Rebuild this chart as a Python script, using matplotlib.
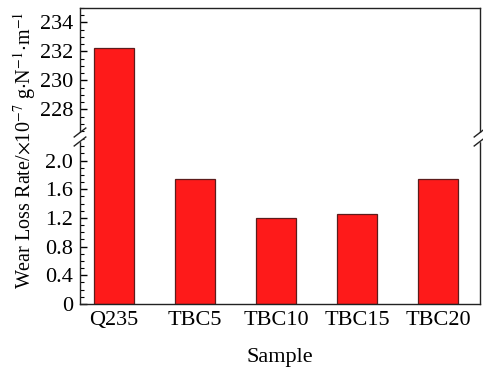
import matplotlib
matplotlib.use('Agg')
import matplotlib.pyplot as plt
import numpy as np
from matplotlib.ticker import MultipleLocator

plt.rcParams['font.family'] = ['Liberation Serif', 'DejaVu Serif']
plt.rcParams['mathtext.fontset'] = 'stix'

samples = ['Q235', 'TBC5', 'TBC10', 'TBC15', 'TBC20']
wear_rate = [232.25, 1.75, 1.20, 1.26, 1.75]

upper_ticks = [228, 230, 232, 234]
lower_ticks = [0, 0.4, 0.8, 1.2, 1.6, 2.0]
lower_labels = ['0', '0.4', '0.8', '1.2', '1.6', '2.0']

bar_face = '#fe1a1a'
bar_edge = '#5c1c1c'

fig = plt.figure(figsize=(4.83, 3.74), dpi=100)
x0, x1 = 80 / 483, 480 / 483
y_top = 1 - 8 / 374
y_mid = 1 - 137 / 374
y_bot = 1 - 304 / 374
ax_hi = fig.add_axes([x0, y_mid, x1 - x0, y_top - y_mid])
ax_lo = fig.add_axes([x0, y_bot, x1 - x0, y_mid - y_bot], sharex=ax_hi)

x = np.arange(len(samples))
for ax in (ax_hi, ax_lo):
    ax.bar(x, wear_rate, width=0.49, color=bar_face, edgecolor=bar_edge, linewidth=0.9)
    ax.set_xlim(-0.42, 4.52)
    for s in ax.spines.values():
        s.set_linewidth(1.0)
        s.set_color('#222222')
    ax.tick_params(axis='y', direction='in', length=5, width=1, labelsize=16, pad=5)
    ax.tick_params(axis='y', which='minor', direction='in', length=3, width=0.8)
    ax.tick_params(axis='x', length=0, labelsize=16, pad=5)

ax_hi.set_ylim(226.1, 235)
ax_hi.set_yticks(upper_ticks)
ax_hi.yaxis.set_minor_locator(MultipleLocator(0.5))
ax_hi.spines['bottom'].set_visible(False)
ax_hi.tick_params(axis='x', labelbottom=False)

ax_lo.set_ylim(0, 2.33)
ax_lo.set_yticks(lower_ticks)
ax_lo.set_yticklabels(lower_labels)
ax_lo.yaxis.set_minor_locator(MultipleLocator(0.1))
ax_lo.spines['top'].set_visible(False)
ax_lo.set_xticks(x)
ax_lo.set_xticklabels(samples)
ax_lo.set_xlabel('Sample', fontsize=16, labelpad=13)

# break marks on both side spines
for xf in (x0, x1):
    fig.patches.append(plt.Rectangle((xf - 0.004, y_mid - 0.012), 0.008, 0.024,
                                     transform=fig.transFigure, color='white', zorder=5))
    for dy in (-0.012, 0.012):
        fig.add_artist(plt.Line2D([xf - 0.012, xf + 0.012], [y_mid + dy - 0.012, y_mid + dy + 0.012],
                                  transform=fig.transFigure, color='#222222', lw=1.0, zorder=6))

fig.text(25 / 483, 1 - 150 / 374,
         r'Wear Loss Rate/$\times$10$^{-7}$ g$\cdot$N$^{-1}$$\cdot$m$^{-1}$',
         rotation=90, ha='center', va='center', fontsize=14.5)

fig.savefig('out.png', dpi=100)
